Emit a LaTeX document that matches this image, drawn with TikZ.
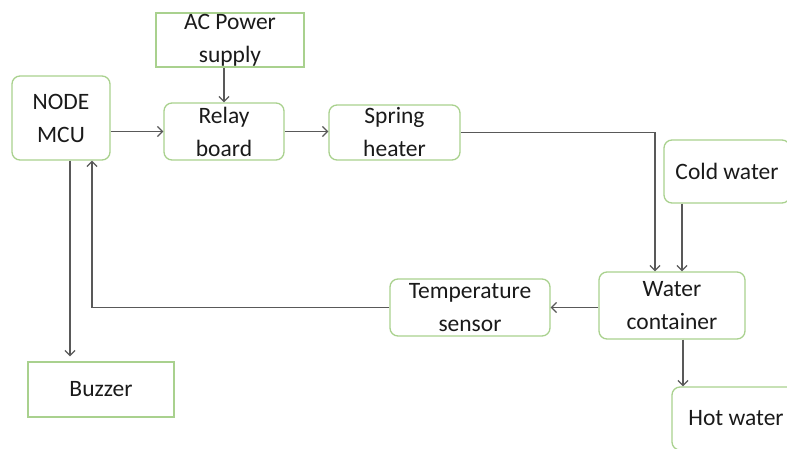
\documentclass[tikz,border=0pt]{standalone}
\usepackage{fontspec}
\setmainfont{Carlito}
\usetikzlibrary{arrows.meta,positioning,calc}
\definecolor{boxgreen}{HTML}{A9D18E}
\definecolor{linegray}{HTML}{595959}
\definecolor{textdark}{HTML}{1A1A1A}
\tikzset{
  block/.style={draw=boxgreen,line width=1.3pt,rounded corners=8pt,align=center,
    inner sep=0pt,text=textdark,font=\fontsize{23.5}{33}\selectfont},
  plainbox/.style={block,rounded corners=0pt},
  arrow/.style={-{Straight Barb[length=5pt,width=10pt]},draw=linegray,line width=1.3pt}
}
\begin{document}
\begin{tikzpicture}[x=1pt,y=-1pt]
  \useasboundingbox (0,0) rectangle (787,449);
  % blocks
  \node[block,minimum width=98pt,minimum height=84pt] (mcu) at (61,118) {NODE\\MCU};
  \node[plainbox,minimum width=148pt,minimum height=54pt] (ac) at (230,40) {AC Power\\supply};
  \node[block,minimum width=120pt,minimum height=57pt] (relay) at (224,131.5) {Relay\\board};
  \node[block,minimum width=131pt,minimum height=55pt] (heater) at (394.5,132.5) {Spring\\heater};
  \node[block,minimum width=126pt,minimum height=63pt] (cold) at (727,171.5) {Cold water};
  \node[block,minimum width=146pt,minimum height=67pt] (water) at (672,305.5) {Water\\container};
  \node[block,minimum width=160pt,minimum height=57pt] (temp) at (470,307.5) {Temperature\\sensor};
  \node[plainbox,minimum width=146pt,minimum height=55pt] (buzzer) at (101,389.5) {Buzzer};
  \node[block,minimum width=128pt,minimum height=63pt] (hot) at (736,418.5) {Hot water};
  % connection points
  \coordinate (heatin) at ([xshift=-17pt]water.north);
  \coordinate (coldin) at ([xshift=10pt]water.north);
  \coordinate (hotout) at ([xshift=11pt]water.south);
  \coordinate (mcuin) at ([xshift=31pt]mcu.south);
  \coordinate (mcuout) at ([xshift=9pt]mcu.south);
  % connectors
  \draw[arrow] (ac.south -| relay.north) -- (relay.north);
  \draw[arrow] (mcu.east |- relay.west) -- (relay.west);
  \draw[arrow] (relay.east) -- (relay.east -| heater.west);
  \draw[arrow] (heater.east) -| (heatin);
  \draw[arrow] (cold.south -| coldin) -- (coldin);
  \draw[arrow] (water.west |- temp.east) -- (temp.east);
  \draw[arrow] (temp.west) -| (mcuin);
  \draw[arrow,shorten >=5pt] (mcuout) -- (buzzer.north -| mcuout);
  \draw[arrow] (hotout) -- (hot.north -| hotout);
\end{tikzpicture}
\end{document}
